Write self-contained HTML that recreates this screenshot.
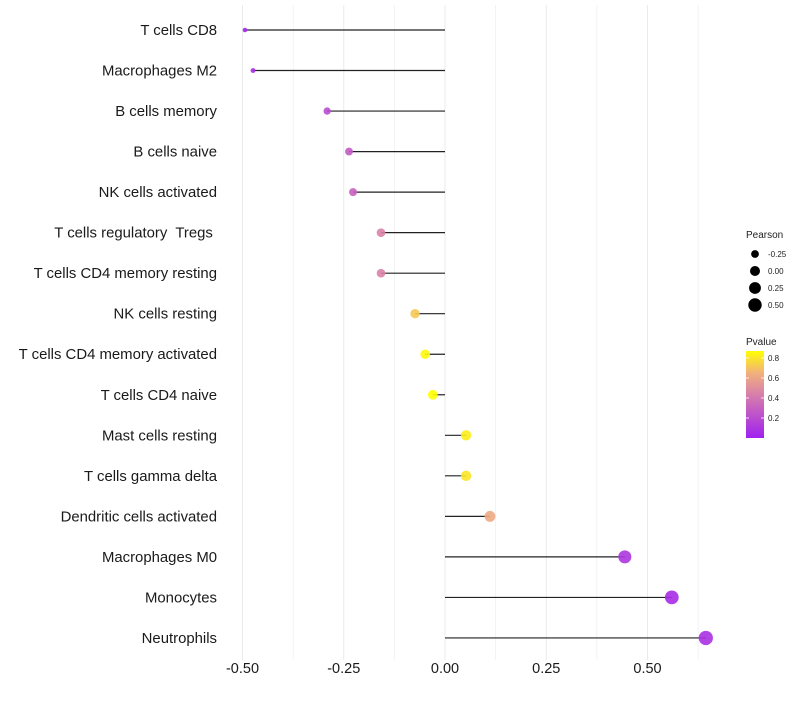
<!DOCTYPE html>
<html><head><meta charset="utf-8"><style>
body{margin:0;background:#fff;width:800px;height:700px;overflow:hidden;font-family:"Liberation Sans",sans-serif}
</style></head><body>
<svg id="chart" width="800" height="700"></svg>
<script>
const categories=["T cells CD8","Macrophages M2","B cells memory","B cells naive","NK cells activated","T cells regulatory  Tregs ","T cells CD4 memory resting","NK cells resting","T cells CD4 memory activated","T cells CD4 naive","Mast cells resting","T cells gamma delta","Dendritic cells activated","Macrophages M0","Monocytes","Neutrophils"];
const pearson=[-0.494,-0.474,-0.291,-0.237,-0.227,-0.158,-0.158,-0.074,-0.049,-0.030,0.052,0.052,0.111,0.444,0.560,0.644];
const pvalue=[0.04,0.06,0.2,0.27,0.3,0.45,0.45,0.72,0.85,0.9,0.82,0.8,0.62,0.1,0.05,0.08];
const xTicks=[-0.5,-0.25,0,0.25,0.5];
const xTickLabels=["-0.50","-0.25","0.00","0.25","0.50"];
const sizeLegend=[-0.25,0,0.25,0.5];
const sizeLegendLabels=["-0.25","0.00","0.25","0.50"];
const colorTicks=[0.2,0.4,0.6,0.8];

const NS="http://www.w3.org/2000/svg";
const svg=document.getElementById('chart');
function el(t,a,p){const e=document.createElementNS(NS,t);for(const k in a)e.setAttribute(k,a[k]);(p||svg).appendChild(e);return e;}
const xs=v=>445+v*405;
const ys=i=>30+i*40.53;
const rs=v=>Math.sqrt(Math.max(1,25+40*v));
const stops=[[0,[160,32,240]],[0.45,[217,130,168]],[0.65,[242,176,124]],[0.87,[255,255,0]]];
function col(p){for(let i=1;i<stops.length;i++){if(p<=stops[i][0]||i==stops.length-1){const[a,ca]=stops[i-1],[b,cb]=stops[i];let t=Math.min(1,Math.max(0,(p-a)/(b-a)));return`rgb(${ca.map((c,j)=>Math.round(c+(cb[j]-c)*t)).join(',')})`;}}}
for(let v=-0.5;v<=0.626;v+=0.125){
 const g=el('line',{x1:xs(v),x2:xs(v),y1:5,y2:660,stroke:'#ebebeb','stroke-width':Math.abs((v*4)%1)<1e-6?1:0.6});
 
}
xTicks.forEach((v,i)=>{
 const t=el('text',{x:xs(v),y:673,'text-anchor':'middle','font-size':14.5,fill:'#1a1a1a'});
 t.textContent=xTickLabels[i];
 
});
categories.forEach((c,i)=>{
 const t=el('text',{x:217,y:ys(i)+5,'text-anchor':'end','font-size':14.9,fill:'#1a1a1a'});
 t.setAttribute('xml:space','preserve');t.style.whiteSpace='pre';
 t.textContent=c;
 
 const l=el('line',{x1:xs(0),x2:xs(pearson[i]),y1:ys(i),y2:ys(i),stroke:'#222','stroke-width':1.2});
 
 const d=el('circle',{cx:xs(pearson[i]),cy:ys(i),r:rs(pearson[i]),fill:col(pvalue[i]),'fill-opacity':0.9});
 
});
const lt=el('text',{x:746,y:238,'font-size':10,fill:'#222'});lt.textContent='Pearson';

sizeLegend.forEach((v,i)=>{
 const y=254+i*17;
 const c=el('circle',{cx:755,cy:y,r:rs(v),fill:'#000'});
 
 const t=el('text',{x:768,y:y+3,'font-size':8,fill:'#222'});t.textContent=sizeLegendLabels[i];
 
});
const ct=el('text',{x:746,y:345,'font-size':10,fill:'#222'});ct.textContent='Pvalue';

const defs=el('defs',{});const gr=el('linearGradient',{id:'pg',x1:0,y1:1,x2:0,y2:0},defs);
stops.forEach(s=>el('stop',{offset:s[0]/0.87,'stop-color':`rgb(${s[1].join(',')})`},gr));
const cy=p=>438-p*100;
const bar=el('rect',{x:746,y:cy(0.87),width:18,height:87,fill:'url(#pg)'});

colorTicks.forEach(p=>{
 el('line',{x1:746,x2:749,y1:cy(p),y2:cy(p),stroke:'#fff','stroke-width':0.8});
 el('line',{x1:761,x2:764,y1:cy(p),y2:cy(p),stroke:'#fff','stroke-width':0.8});
 const t=el('text',{x:768,y:cy(p)+3,'font-size':8,fill:'#222'});t.textContent=p.toFixed(1);
 
});
</script>
</body></html>
